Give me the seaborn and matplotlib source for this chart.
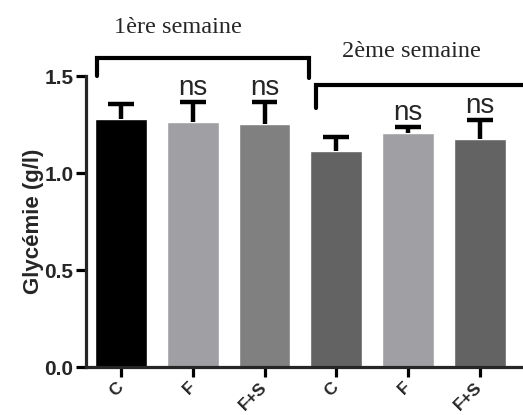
import numpy as np
import pandas as pd
import matplotlib
matplotlib.use("Agg")
import matplotlib.pyplot as plt
import seaborn as sns
from matplotlib.transforms import ScaledTranslation

# Data
groups = ["C", "F", "F+S", "C", "F", "F+S"]
ids = ["C1", "F1", "FS1", "C2", "F2", "FS2"]
means = [1.277, 1.264, 1.251, 1.115, 1.204, 1.173]
sems = [0.078, 0.104, 0.117, 0.072, 0.031, 0.100]
colors = ["#000000", "#A0A0A4", "#808080", "#636363", "#A0A0A4", "#636363"]
ns_labels = ["", "ns", "ns", "", "ns", "ns"]
week_labels = ["1ère semaine", "2ème semaine"]
yticks = [0.0, 0.5, 1.0, 1.5]

sns.set_style("ticks")
plt.rcParams["font.family"] = ["Liberation Sans", "DejaVu Sans"]

fig = plt.figure(figsize=(5.23, 4.15), dpi=100)
ax = fig.add_axes([86/523, 48/415, (523-86)/523, (367-76)/415])

df = pd.DataFrame({"id": ids, "mean": means})
sns.barplot(data=df, x="id", y="mean", hue="id", palette=colors, order=ids,
            width=0.72, legend=False, ax=ax, saturation=1, errorbar=None)

x = np.arange(len(ids))
tops = np.array(means) + np.array(sems)
ax.vlines(x, means, tops, color="black", lw=3.2, zorder=3)
ax.hlines(tops, x - 0.18, x + 0.18, color="black", lw=3.2, zorder=3)

ax.set_xlim(-0.487, 5.6)
ax.set_ylim(0, 1.5)
ax.set_yticks(yticks)
ax.set_yticklabels(["0.0", "0.5", "1.0", "1.5"], fontsize=15, fontweight="bold")
ax.set_xticks(x)
ax.set_xticklabels(groups, fontsize=12.5, fontweight="bold", rotation=45,
                   ha="right", va="center", rotation_mode="anchor")
offset = ScaledTranslation(3/72, 0, fig.dpi_scale_trans)
for lbl in ax.get_xticklabels():
    lbl.set_y(-0.018)
    lbl.set_transform(lbl.get_transform() + offset)
ax.set_xlabel("")
ax.set_ylabel("Glycémie (g/l)", fontsize=16, fontweight="bold", labelpad=0)

for s in ["top", "right"]:
    ax.spines[s].set_visible(False)
for s in ["left", "bottom"]:
    ax.spines[s].set_linewidth(2.3)
ax.tick_params(axis="both", width=2.3, length=7, pad=2, color="black")

# ns labels
for xi, m, e, t in zip(x, means, sems, ns_labels):
    if t:
        ax.text(xi, m + e + 0.005, t, ha="center", va="bottom", fontsize=20)

# brackets
lw = 3.0
ax.plot([-0.334, -0.334, 2.62, 2.62], [1.5, 1.593, 1.593, 1.49],
        color="black", lw=lw, clip_on=False, solid_joinstyle="miter")
ax.plot([2.716, 2.716, 6.0], [1.335, 1.454, 1.454],
        color="black", lw=lw, clip_on=False, solid_joinstyle="miter")

ax.text(0.79, 1.722, week_labels[0], ha="center", va="baseline", fontsize=17.5,
        family="Liberation Serif")
ax.text(4.04, 1.598, week_labels[1], ha="center", va="baseline", fontsize=17.5,
        family="Liberation Serif")

fig.savefig("out.png", dpi=100)
